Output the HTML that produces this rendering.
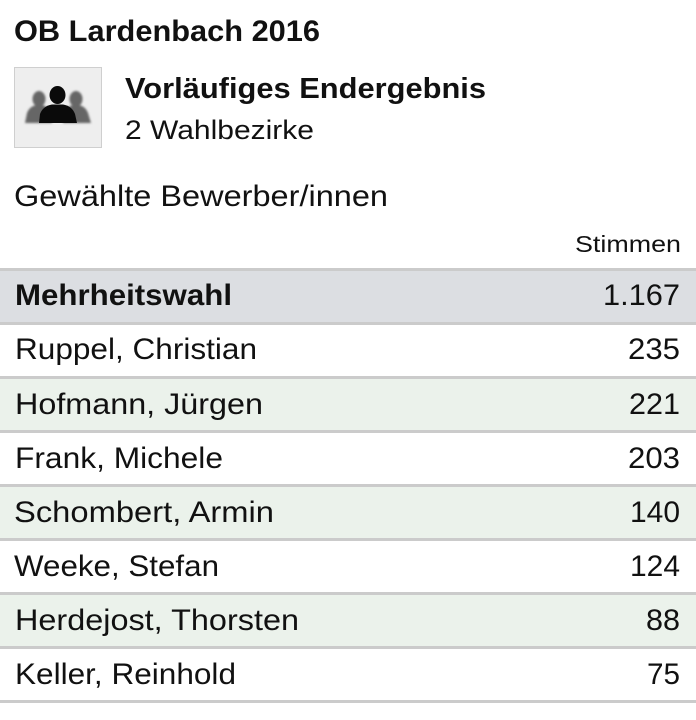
<!DOCTYPE html>
<html>
<head>
<meta charset="utf-8">
<style>
  html,body{margin:0;padding:0;background:#fff;}
  svg{display:block;}
  text{font-family:"Liberation Sans", Arial, sans-serif;fill:#111;}
</style>
</head>
<body>
<svg width="696" height="720" viewBox="0 0 696 720" xmlns="http://www.w3.org/2000/svg">
  <defs>
    <filter id="bl" x="-20%" y="-20%" width="140%" height="140%">
      <feGaussianBlur stdDeviation="1.1"/>
    </filter>
  </defs>
  <rect x="0" y="0" width="696" height="720" fill="#ffffff"/>

  <!-- Title -->
  <text x="14" y="41" font-size="30" font-weight="bold" fill="#000" textLength="306" lengthAdjust="spacingAndGlyphs">OB Lardenbach 2016</text>

  <!-- Icon box -->
  <rect x="14.5" y="67.5" width="87" height="80" fill="#eeeeee" stroke="#cfcfcf" stroke-width="1"/>
  <!-- side figures -->
  <g fill="#666" filter="url(#bl)">
    <ellipse cx="39" cy="99" rx="6.5" ry="8"/>
    <path d="M25 123 L27 113 Q30 105 39 105 Q48 105 51 113 L52 123 Z"/>
    <ellipse cx="76" cy="99" rx="6.5" ry="8"/>
    <path d="M63 123 L64 113 Q67 105 76 105 Q85 105 88 113 L91 123 Z"/>
  </g>
  <!-- center figure -->
  <g fill="#0a0a0a">
    <ellipse cx="57.5" cy="95" rx="8" ry="9"/>
    <path d="M39 123 L40 114 Q43 106 52 104.5 L63 104.5 Q72 106 75 114 L77 123 Z"/>
  </g>

  <!-- Subheader -->
  <text x="125" y="98" font-size="28.5" font-weight="bold" textLength="361" lengthAdjust="spacingAndGlyphs">Vorläufiges Endergebnis</text>
  <text x="125" y="139" font-size="27" textLength="189" lengthAdjust="spacingAndGlyphs">2 Wahlbezirke</text>

  <text x="14" y="206" font-size="29.5" textLength="374" lengthAdjust="spacingAndGlyphs">Gewählte Bewerber/innen</text>

  <text x="681" y="252" font-size="23" text-anchor="end" textLength="106" lengthAdjust="spacingAndGlyphs">Stimmen</text>

  <!-- Row backgrounds -->
  <rect x="0" y="270" width="696" height="53" fill="#dcdee2"/>
  <rect x="0" y="378" width="696" height="54" fill="#ebf2eb"/>
  <rect x="0" y="486" width="696" height="54" fill="#ebf2eb"/>
  <rect x="0" y="594" width="696" height="54" fill="#ebf2eb"/>

  <!-- Row borders -->
  <g fill="#cbcbcb">
    <rect x="0" y="268" width="696" height="3"/>
    <rect x="0" y="322" width="696" height="3"/>
    <rect x="0" y="376" width="696" height="3"/>
    <rect x="0" y="430" width="696" height="3"/>
    <rect x="0" y="484" width="696" height="3"/>
    <rect x="0" y="538" width="696" height="3"/>
    <rect x="0" y="592" width="696" height="3"/>
    <rect x="0" y="646" width="696" height="3"/>
    <rect x="0" y="700" width="696" height="3"/>
  </g>

  <!-- Rows -->
  <text x="15" y="305" font-size="29.5" font-weight="bold" textLength="217" lengthAdjust="spacingAndGlyphs">Mehrheitswahl</text>
  <text x="680" y="305" font-size="30" text-anchor="end" textLength="77" lengthAdjust="spacingAndGlyphs">1.167</text>

  <text x="15" y="359" font-size="30" textLength="242" lengthAdjust="spacingAndGlyphs">Ruppel, Christian</text>
  <text x="680" y="359" font-size="30" text-anchor="end" textLength="52" lengthAdjust="spacingAndGlyphs">235</text>

  <text x="15" y="414" font-size="30" textLength="248" lengthAdjust="spacingAndGlyphs">Hofmann, Jürgen</text>
  <text x="680" y="414" font-size="30" text-anchor="end" textLength="51" lengthAdjust="spacingAndGlyphs">221</text>

  <text x="15" y="468" font-size="30" textLength="208" lengthAdjust="spacingAndGlyphs">Frank, Michele</text>
  <text x="680" y="468" font-size="30" text-anchor="end" textLength="52" lengthAdjust="spacingAndGlyphs">203</text>

  <text x="14" y="522" font-size="30" textLength="260" lengthAdjust="spacingAndGlyphs">Schombert, Armin</text>
  <text x="680" y="522" font-size="30" text-anchor="end" textLength="50" lengthAdjust="spacingAndGlyphs">140</text>

  <text x="14" y="576" font-size="30" textLength="205" lengthAdjust="spacingAndGlyphs">Weeke, Stefan</text>
  <text x="680" y="576" font-size="30" text-anchor="end" textLength="50" lengthAdjust="spacingAndGlyphs">124</text>

  <text x="15" y="630" font-size="30" textLength="284" lengthAdjust="spacingAndGlyphs">Herdejost, Thorsten</text>
  <text x="680" y="630" font-size="30" text-anchor="end" textLength="34" lengthAdjust="spacingAndGlyphs">88</text>

  <text x="15" y="684" font-size="30" textLength="221" lengthAdjust="spacingAndGlyphs">Keller, Reinhold</text>
  <text x="680" y="684" font-size="30" text-anchor="end" textLength="33" lengthAdjust="spacingAndGlyphs">75</text>
</svg>
</body>
</html>
